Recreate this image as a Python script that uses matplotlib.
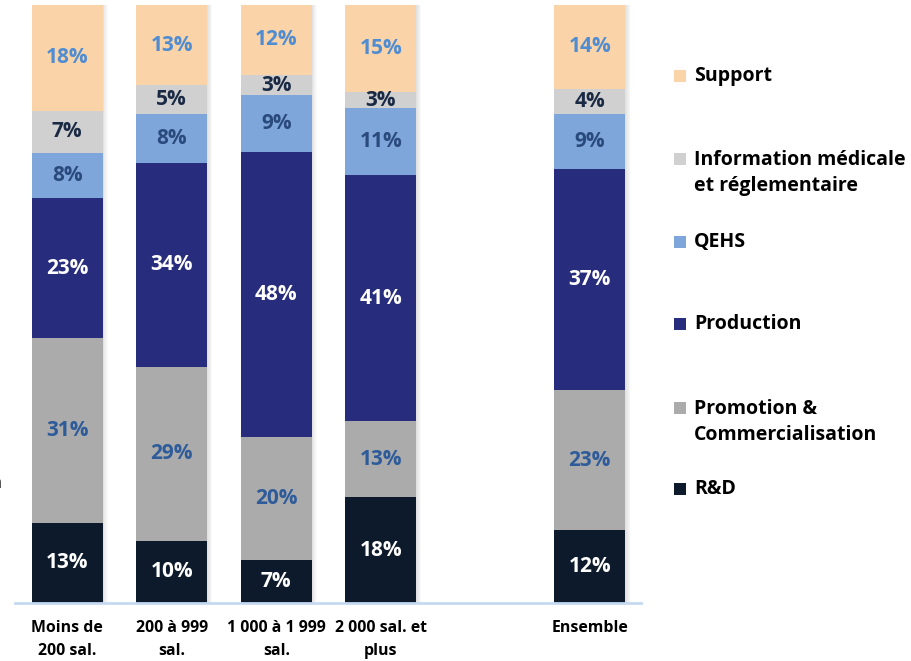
import matplotlib
matplotlib.use("Agg")
import matplotlib.pyplot as plt
from matplotlib.patches import Rectangle
import numpy as np

plt.rcParams['font.family'] = ['Open Sans', 'DejaVu Sans']
plt.rcParams['font.weight'] = 'bold'

categories = ["Moins de\n200 sal.", "200 à 999\nsal.", "1 000 à 1 999\nsal.", "2 000 sal. et\nplus", "Ensemble"]
positions = [0, 1, 2, 3, 5]

series = ["R&D", "Promotion &\nCommercialisation", "Production", "QEHS",
          "Information médicale\net réglementaire", "Support"]

rd = [13.4, 10.4, 7.2, 17.7, 12.2]
promotion = [30.9, 29.1, 20.5, 12.7, 23.4]
production = [23.4, 34.1, 47.8, 41.1, 37.0]
qehs = [7.6, 8.2, 9.4, 11.2, 9.2]
info = [7.0, 4.8, 3.4, 2.7, 4.2]
support = [17.7, 13.4, 11.7, 14.6, 14.0]

values = [rd, promotion, production, qehs, info, support]
colors = ["#0D1A2B", "#ABABAB", "#282C7D", "#7EA6DA", "#D0D0D0", "#FAD4A8"]
label_colors = ["white", "#2E5B99", "white", "#2A4A7C", "#1B2A44", "#4F8CD2"]

fig = plt.figure(figsize=(9.12, 6.61), dpi=100)
ax = fig.add_axes([15 / 912, 58 / 661, 626 / 912, 598 / 661])

width = 0.68
bottom = np.zeros(len(positions))

# soft drop shadow on the right of each bar
for x in positions:
    for k in range(6):
        ax.add_patch(Rectangle((x + width / 2 + k * 0.008, 0), 0.008, 100,
                               facecolor="#7A7A7A", alpha=0.22 * (1 - k / 6),
                               edgecolor="none", zorder=1))

for vals, col, lcol in zip(values, colors, label_colors):
    vals = np.array(vals)
    ax.bar(positions, vals, width=width, bottom=bottom, color=col,
           edgecolor="none", zorder=2)
    for x, b, v in zip(positions, bottom, vals):
        ax.text(x, b + v / 2, f"{round(v):d}%", ha="center", va="center",
                color=lcol, fontsize=15, fontweight="bold", zorder=3)
    bottom += vals

ax.set_xlim(-0.50, 5.49)
ax.set_ylim(0, 100)
for s in ["top", "right", "left"]:
    ax.spines[s].set_visible(False)
ax.spines["bottom"].set_color("#C5D9F1")
ax.spines["bottom"].set_linewidth(2)
ax.spines["bottom"].set_zorder(4)
ax.set_yticks([])
ax.set_xticks(positions)
ax.set_xticklabels(categories, fontsize=11.4, fontweight="bold", linespacing=1.6)
ax.tick_params(axis="x", length=0, pad=12)

# legend, drawn top to bottom
legend_rows = [
    (5, "Support", 76),
    (4, "Information médicale\net réglementaire", 173),
    (3, "QEHS", 242),
    (2, "Production", 324),
    (1, "Promotion &\nCommercialisation", 422),
    (0, "R&D", 489),
]
for idx, text, yc in legend_rows:
    nlines = text.count("\n") + 1
    ysq = yc - (nlines - 1) * 14
    fig.patches.append(Rectangle((674 / 912, 1 - (ysq + 6) / 661), 12 / 912, 12 / 661,
                                 transform=fig.transFigure, facecolor=colors[idx],
                                 edgecolor="none"))
    fig.text(694 / 912, 1 - yc / 661, text, ha="left", va="center",
             fontsize=14, fontweight="bold", color="black", linespacing=1.45)

fig.text(2 / 912, 1 - 483 / 661, "n", ha="right", va="center", fontsize=12,
         fontweight="bold", color="black")

fig.savefig("out.png", dpi=100, facecolor="white")
